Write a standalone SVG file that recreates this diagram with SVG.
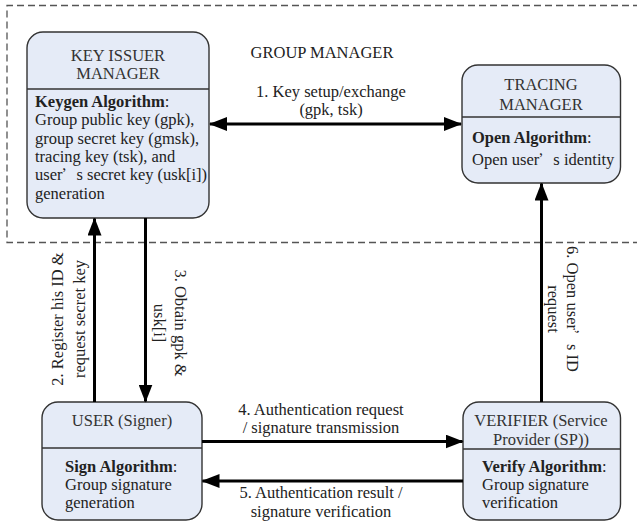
<svg xmlns="http://www.w3.org/2000/svg" width="637" height="522" viewBox="0 0 637 522" font-family="'Liberation Serif', 'DejaVu Serif', serif">
  <style>
    text { font-family: "Liberation Serif", "DejaVu Serif", serif; font-size: 16.5px; fill: #222; }
    .title { fill: #333; text-anchor: middle; }
    .mid { text-anchor: middle; }
    .b { font-weight: bold; }
    .box { fill: #e5ebf7; stroke: #333; stroke-width: 1.4; }
    .div { stroke: #333; stroke-width: 1.4; }
    .wire { stroke: #000; stroke-width: 3; fill: none; }
    .frame { fill: none; stroke: #555; stroke-width: 1.3; stroke-dasharray: 7 4; }
    .q { font-family: "Noto Sans CJK SC", sans-serif; font-size: 14px; }
  </style>
  <defs>
    <marker id="ah" viewBox="0 0 18 14" refX="17" refY="7" markerWidth="18" markerHeight="14" markerUnits="userSpaceOnUse" orient="auto-start-reverse">
      <path d="M0,0 L18,7 L0,14 Z" fill="#000"/>
    </marker>
  </defs>

  <!-- group manager boundary -->
  <path class="frame" d="M640,5.5 H7 V242.5 H640"/>
  <text x="322" y="58" class="mid">GROUP MANAGER</text>

  <g id="key-issuer-manager">
    <rect class="box" x="27" y="32" width="182" height="186" rx="16"/>
    <line class="div" x1="27" y1="89" x2="209" y2="89"/>
    <text x="118" y="61" class="title">KEY ISSUER</text>
    <text x="118" y="79" class="title">MANAGER</text>
    <text x="35" y="107"><tspan class="b">Keygen Algorithm</tspan>:</text>
    <text x="35" y="125.3">Group public key (gpk),</text>
    <text x="35" y="143.6">group secret key (gmsk),</text>
    <text x="35" y="161.9">tracing key (tsk), and</text>
    <text x="35" y="180.2">user<tspan class="q">’</tspan>s secret key (usk[i])</text>
    <text x="35" y="198.5">generation</text>
  </g>

  <g id="tracing-manager">
    <rect class="box" x="462" y="65" width="158.5" height="118" rx="16"/>
    <line class="div" x1="462" y1="117" x2="620.5" y2="117"/>
    <text x="541" y="90" class="title">TRACING</text>
    <text x="541" y="110" class="title">MANAGER</text>
    <text x="472" y="143"><tspan class="b">Open Algorithm</tspan>:</text>
    <text x="472" y="165">Open user<tspan class="q">’</tspan>s identity</text>
  </g>

  <g id="user">
    <rect class="box" x="42" y="402" width="160" height="118" rx="16"/>
    <line class="div" x1="42" y1="448" x2="202" y2="448"/>
    <text x="122" y="426" class="title">USER (Signer)</text>
    <text x="65" y="472"><tspan class="b">Sign Algorithm</tspan>:</text>
    <text x="65" y="490">Group signature</text>
    <text x="65" y="508">generation</text>
  </g>

  <g id="verifier">
    <rect class="box" x="463" y="402" width="157.5" height="118" rx="16"/>
    <line class="div" x1="463" y1="449" x2="620.5" y2="449"/>
    <text x="541" y="426" class="title">VERIFIER (Service</text>
    <text x="541" y="445" class="title">Provider (SP))</text>
    <text x="482" y="472"><tspan class="b">Verify Algorithm</tspan>:</text>
    <text x="482" y="490">Group signature</text>
    <text x="482" y="508">verification</text>
  </g>

  <g id="connectors">
    <!-- 1: key setup between issuer and tracing manager -->
    <line class="wire" x1="210" y1="124" x2="461" y2="124" marker-start="url(#ah)" marker-end="url(#ah)"/>
    <text x="331" y="97" class="mid">1. Key setup/exchange</text>
    <text x="331" y="115" class="mid">(gpk, tsk)</text>

    <!-- 2: user registers with issuer -->
    <line class="wire" x1="94.5" y1="402" x2="94.5" y2="218.5" marker-end="url(#ah)"/>
    <text transform="translate(63,319) rotate(-90)" class="mid">2. Register his ID &amp;</text>
    <text transform="translate(85,319) rotate(-90)" class="mid">request secret key</text>

    <!-- 3: issuer returns keys to user -->
    <line class="wire" x1="145.5" y1="218" x2="145.5" y2="401.5" marker-end="url(#ah)"/>
    <text transform="translate(175,323) rotate(90)" class="mid">3. Obtain gpk &amp;</text>
    <text transform="translate(154,323) rotate(90)" class="mid">usk[i]</text>

    <!-- 4: authentication request -->
    <line class="wire" x1="202" y1="441.5" x2="462.5" y2="441.5" marker-end="url(#ah)"/>
    <text x="321" y="414.5" class="mid">4. Authentication request</text>
    <text x="321" y="433.2" class="mid">/ signature transmission</text>

    <!-- 5: authentication result -->
    <line class="wire" x1="463" y1="481" x2="202.5" y2="481" marker-end="url(#ah)"/>
    <text x="321" y="498" class="mid">5. Authentication result /</text>
    <text x="321" y="516.7" class="mid">signature verification</text>

    <!-- 6: verifier asks tracing manager to open identity -->
    <line class="wire" x1="541.5" y1="402" x2="541.5" y2="183.5" marker-end="url(#ah)"/>
    <text transform="translate(567,309) rotate(90)" class="mid">6. Open user<tspan class="q">’</tspan>s ID</text>
    <text transform="translate(548,309) rotate(90)" class="mid">request</text>
  </g>
</svg>
